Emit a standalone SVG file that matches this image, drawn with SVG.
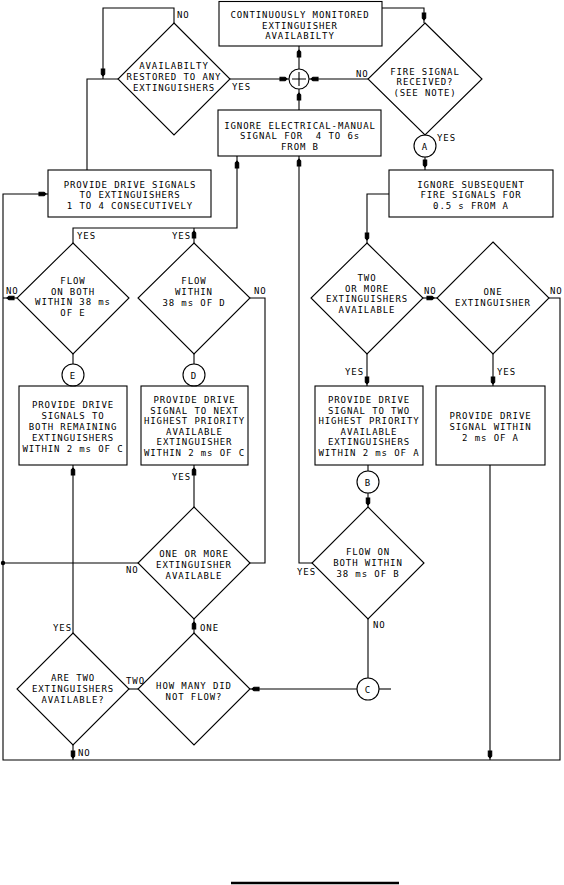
<svg xmlns="http://www.w3.org/2000/svg" xmlns:xlink="http://www.w3.org/1999/xlink" width="564" height="885" viewBox="0 0 564 885">
<style>
.bg{fill:#fff}
.s{fill:none;stroke:#000;stroke-width:1.1}
.t{font-family:"DejaVu Sans Mono","Liberation Mono",monospace;font-size:9px;letter-spacing:0.9px;fill:#000;text-anchor:middle}
.l{text-anchor:start}
.ah{fill:#000}
</style>
<defs>
<path id="ah" class="ah" d="M0,0 L-2,-1.7 L-7,-1.7 L-7,1.7 L-2,1.7 Z"/>
</defs>
<rect class="bg" x="0" y="0" width="564" height="885"/>

<g id="connectors" class="s">
<path d="M174,23 V8 H103 V79"/>
<path d="M87,170 V79 H118"/>
<path d="M230,79 H289"/>
<path d="M299,69 V46"/>
<path d="M382,8 H424 V23"/>
<path d="M368,79 H309"/>
<path d="M299,110 V89"/>
<path d="M425,157 V170"/>
<path d="M389,194 H367 V243"/>
<path d="M423,298 H437"/>
<path d="M549,298 H560 V760 H3 V194 H48"/>
<path d="M367,354 V386"/>
<path d="M493,354 V386"/>
<path d="M368,465 V471"/>
<path d="M368,493 V507"/>
<path d="M312,563 H299 V156"/>
<path d="M368,619 V678"/>
<path d="M379,689 H391"/>
<path d="M357,689 H250"/>
<path d="M490,465 V760"/>
<path d="M237,156 V228 H73 V243"/>
<path d="M194,228 V243"/>
<path d="M17,298 H3"/>
<path d="M250,298 H265 V563 H250"/>
<path d="M73,354 V364"/>
<path d="M194,354 V364"/>
<path d="M73,465 V633"/>
<path d="M194,465 V507"/>
<path d="M138,563 H3"/>
<path d="M194,633 V619"/>
<path d="M138,689 H129"/>
<path d="M73,745 V760"/>
<circle cx="3" cy="563" r="2.2" fill="#000" stroke="none"/>
<use xlink:href="#ah" href="#ah" transform="translate(103,76) rotate(90)"/>
<use xlink:href="#ah" href="#ah" transform="translate(287,79)"/>
<use xlink:href="#ah" href="#ah" transform="translate(311,79) rotate(180)"/>
<use xlink:href="#ah" href="#ah" transform="translate(299,50) rotate(-90)"/>
<use xlink:href="#ah" href="#ah" transform="translate(299,93) rotate(-90)"/>
<use xlink:href="#ah" href="#ah" transform="translate(424,20) rotate(90)"/>
<use xlink:href="#ah" href="#ah" transform="translate(425,167) rotate(90)"/>
<use xlink:href="#ah" href="#ah" transform="translate(367,240) rotate(90)"/>
<use xlink:href="#ah" href="#ah" transform="translate(194,231) rotate(-90)"/>
<use xlink:href="#ah" href="#ah" transform="translate(237,161) rotate(-90)"/>
<use xlink:href="#ah" href="#ah" transform="translate(46,194)"/>
<use xlink:href="#ah" href="#ah" transform="translate(7,298) rotate(180)"/>
<use xlink:href="#ah" href="#ah" transform="translate(434,298)"/>
<use xlink:href="#ah" href="#ah" transform="translate(367,384) rotate(90)"/>
<use xlink:href="#ah" href="#ah" transform="translate(493,384) rotate(90)"/>
<use xlink:href="#ah" href="#ah" transform="translate(368,505) rotate(90)"/>
<use xlink:href="#ah" href="#ah" transform="translate(299,159) rotate(-90)"/>
<use xlink:href="#ah" href="#ah" transform="translate(490,758) rotate(90)"/>
<use xlink:href="#ah" href="#ah" transform="translate(252,689) rotate(180)"/>
<use xlink:href="#ah" href="#ah" transform="translate(73,468) rotate(-90)"/>
<use xlink:href="#ah" href="#ah" transform="translate(194,468) rotate(-90)"/>
<use xlink:href="#ah" href="#ah" transform="translate(194,622) rotate(-90)"/>
<use xlink:href="#ah" href="#ah" transform="translate(73,758) rotate(90)"/>
</g>

<g id="labels" class="t l">
<text x="177" y="18">NO</text>
<text x="232" y="90">YES</text>
<text x="356" y="77">NO</text>
<text x="437" y="141">YES</text>
<text x="77" y="239">YES</text>
<text x="172" y="239">YES</text>
<text x="6" y="294">NO</text>
<text x="254" y="294">NO</text>
<text x="424" y="294">NO</text>
<text x="550" y="294">NO</text>
<text x="345" y="375">YES</text>
<text x="497" y="375">YES</text>
<text x="172" y="480">YES</text>
<text x="126" y="573">NO</text>
<text x="297" y="575">YES</text>
<text x="373" y="628">NO</text>
<text x="53" y="631">YES</text>
<text x="200" y="631">ONE</text>
<text x="126" y="684">TWO</text>
<text x="78" y="756">NO</text>
</g>

<g id="n_monitored">
<rect class="s" x="219" y="1.5" width="163" height="44.5"/>
<text class="t" x="300" y="18">CONTINUOUSLY MONITORED</text>
<text class="t" x="300" y="28.5">EXTINGUISHER</text>
<text class="t" x="300" y="39">AVAILABILTY</text>
</g>

<g id="n_ignore_elec">
<rect class="s" x="218" y="110" width="163" height="46"/>
<text class="t" x="300" y="128.5">IGNORE ELECTRICAL-MANUAL</text>
<text class="t" x="300" y="139" xml:space="preserve">SIGNAL FOR  4 TO 6s</text>
<text class="t" x="300" y="149.5">FROM B</text>
</g>

<g id="n_restored">
<polygon class="s" points="174,23 230,79 174,135 118,79"/>
<text class="t" x="174" y="69">AVAILABILTY</text>
<text class="t" x="174" y="80">RESTORED TO ANY</text>
<text class="t" x="174" y="91">EXTINGUISHERS</text>
</g>

<g id="n_sum">
<circle class="s" cx="299" cy="79" r="10"/>
<path class="s" d="M292,79 H306 M299,72 V86"/>
</g>

<g id="n_fire">
<polygon class="s" points="425,23 482,79 425,135 368,79"/>
<text class="t" x="425" y="74.5">FIRE SIGNAL</text>
<text class="t" x="425" y="85">RECEIVED?</text>
<text class="t" x="425" y="95.5">(SEE NOTE)</text>
</g>

<g id="n_A">
<circle class="s" cx="425" cy="146" r="11"/>
<text class="t" x="425" y="149.5">A</text>
</g>

<g id="n_provide1to4">
<rect class="s" x="48" y="170" width="163" height="47"/>
<text class="t" x="130" y="187.5">PROVIDE DRIVE SIGNALS</text>
<text class="t" x="130" y="198">TO EXTINGUISHERS</text>
<text class="t" x="130" y="208.5">1 TO 4 CONSECUTIVELY</text>
</g>

<g id="n_ignore_sub">
<rect class="s" x="389" y="170" width="164" height="47"/>
<text class="t" x="471" y="187.5">IGNORE SUBSEQUENT</text>
<text class="t" x="471" y="198">FIRE SIGNALS FOR</text>
<text class="t" x="471" y="208.5">0.5 s FROM A</text>
</g>

<g id="n_flow_both_E">
<polygon class="s" points="73,243 129,298 73,354 17,298"/>
<text class="t" x="73" y="284">FLOW</text>
<text class="t" x="73" y="294.5">ON BOTH</text>
<text class="t" x="73" y="305">WITHIN 38 ms</text>
<text class="t" x="73" y="315.5">OF E</text>
</g>

<g id="n_flow_within_D">
<polygon class="s" points="194,243 250,298 194,354 138,298"/>
<text class="t" x="194" y="284">FLOW</text>
<text class="t" x="194" y="295">WITHIN</text>
<text class="t" x="194" y="306">38 ms OF D</text>
</g>

<g id="n_E">
<circle class="s" cx="73" cy="375" r="11"/>
<text class="t" x="73" y="378.5">E</text>
</g>

<g id="n_D">
<circle class="s" cx="194" cy="375" r="11"/>
<text class="t" x="194" y="378.5">D</text>
</g>

<g id="n_box_E">
<rect class="s" x="19" y="386" width="108" height="79"/>
<text class="t" x="73" y="408">PROVIDE DRIVE</text>
<text class="t" x="73" y="419">SIGNALS TO</text>
<text class="t" x="73" y="430">BOTH REMAINING</text>
<text class="t" x="73" y="441">EXTINGUISHERS</text>
<text class="t" x="73" y="452">WITHIN 2 ms OF C</text>
</g>

<g id="n_box_D">
<rect class="s" x="141" y="386" width="107" height="79"/>
<text class="t" x="194.5" y="403">PROVIDE DRIVE</text>
<text class="t" x="194.5" y="413.6">SIGNAL TO NEXT</text>
<text class="t" x="194.5" y="424.2">HIGHEST PRIORITY</text>
<text class="t" x="194.5" y="434.8">AVAILABLE</text>
<text class="t" x="194.5" y="445.4">EXTINGUISHER</text>
<text class="t" x="194.5" y="456">WITHIN 2 ms OF C</text>
</g>

<g id="n_two_or_more">
<polygon class="s" points="367,243 423,298 367,354 311,298"/>
<text class="t" x="367" y="281">TWO</text>
<text class="t" x="367" y="291.5">OR MORE</text>
<text class="t" x="367" y="302">EXTINGUISHERS</text>
<text class="t" x="367" y="312.5">AVAILABLE</text>
</g>

<g id="n_one_ext">
<polygon class="s" points="493,242 549,298 493,354 437,298"/>
<text class="t" x="493" y="295">ONE</text>
<text class="t" x="493" y="306">EXTINGUISHER</text>
</g>

<g id="n_box_two">
<rect class="s" x="315" y="386" width="108" height="79"/>
<text class="t" x="369" y="403">PROVIDE DRIVE</text>
<text class="t" x="369" y="413.6">SIGNAL TO TWO</text>
<text class="t" x="369" y="424.2">HIGHEST PRIORITY</text>
<text class="t" x="369" y="434.8">AVAILABLE</text>
<text class="t" x="369" y="445.4">EXTINGUISHERS</text>
<text class="t" x="369" y="456">WITHIN 2 ms OF A</text>
</g>

<g id="n_box_one">
<rect class="s" x="436" y="386" width="109" height="79"/>
<text class="t" x="490.5" y="419">PROVIDE DRIVE</text>
<text class="t" x="490.5" y="430">SIGNAL WITHIN</text>
<text class="t" x="490.5" y="441">2 ms OF A</text>
</g>

<g id="n_B">
<circle class="s" cx="368" cy="482" r="11"/>
<text class="t" x="368" y="485.5">B</text>
</g>

<g id="n_flow_both_B">
<polygon class="s" points="368,507 424,563 368,619 312,563"/>
<text class="t" x="368" y="555">FLOW ON</text>
<text class="t" x="368" y="566">BOTH WITHIN</text>
<text class="t" x="368" y="577">38 ms OF B</text>
</g>

<g id="n_C">
<circle class="s" cx="368" cy="689" r="11"/>
<text class="t" x="368" y="692.5">C</text>
</g>

<g id="n_one_or_more">
<polygon class="s" points="194,507 250,563 194,619 138,563"/>
<text class="t" x="194" y="557">ONE OR MORE</text>
<text class="t" x="194" y="568">EXTINGUISHER</text>
<text class="t" x="194" y="579">AVAILABLE</text>
</g>

<g id="n_how_many">
<polygon class="s" points="194,633 250,689 194,745 138,689"/>
<text class="t" x="194" y="689">HOW MANY DID</text>
<text class="t" x="194" y="700">NOT FLOW?</text>
</g>

<g id="n_are_two">
<polygon class="s" points="73,633 129,689 73,745 17,689"/>
<text class="t" x="73" y="681">ARE TWO</text>
<text class="t" x="73" y="692">EXTINGUISHERS</text>
<text class="t" x="73" y="703">AVAILABLE?</text>
</g>

<path d="M231,883 H399" stroke="#000" stroke-width="2.5" fill="none"/>
</svg>
